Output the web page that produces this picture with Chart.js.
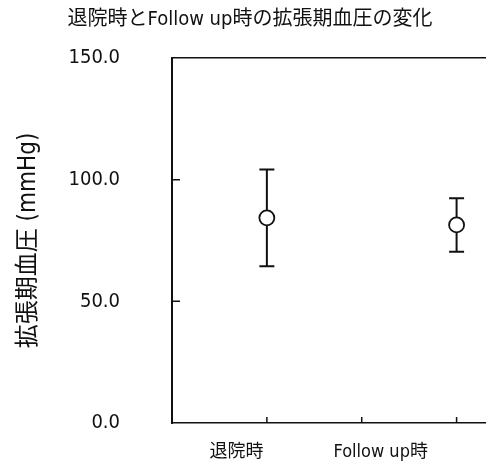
<!DOCTYPE html>
<html>
<head>
<meta charset="utf-8">
<script src="https://cdn.jsdelivr.net/npm/chart.js@4.4.1/dist/chart.umd.min.js"></script>
<style>
html,body{margin:0;padding:0;background:#fff;overflow:hidden;}
canvas{display:block;}
</style>
</head>
<body>
<canvas id="c" width="486" height="464"></canvas>
<script>
// ---- data ----
const categories = ['退院時', 'Follow up時'];
const xPositions = [1, 2];
const meanValues = [84.3, 81.4];
const sdValues = [19.9, 11.0];
const yTickValues = [0, 50, 100, 150];
const yTickMarks = [50, 100];
const xTickMarks = [1, 1.5, 2];
const xLabelPositions = [0.84, 1.6];
const titleText = '退院時とFollow up時の拡張期血圧の変化';
const yTitleText = '拡張期血圧 (mmHg)';

const FONT = '"DejaVu Sans Condensed", "Liberation Sans", "Noto Sans CJK JP", sans-serif';
const INK = '#111';

const errorBars = {
  id: 'errorBars',
  beforeDatasetsDraw(chart) {
    const {ctx, scales: {x, y}} = chart;
    ctx.save();
    ctx.strokeStyle = INK;
    ctx.lineWidth = 2;
    const cap = 7.5;
    xPositions.forEach((xv, i) => {
      const px = x.getPixelForValue(xv);
      const top = y.getPixelForValue(meanValues[i] + sdValues[i]);
      const bot = y.getPixelForValue(meanValues[i] - sdValues[i]);
      ctx.beginPath();
      ctx.moveTo(px, top); ctx.lineTo(px, bot);
      ctx.moveTo(px - cap, top); ctx.lineTo(px + cap, top);
      ctx.moveTo(px - cap, bot); ctx.lineTo(px + cap, bot);
      ctx.stroke();
    });
    ctx.restore();
  }
};

const inwardTicks = {
  id: 'inwardTicks',
  afterDraw(chart) {
    const {ctx, scales: {x, y}, chartArea} = chart;
    ctx.save();
    ctx.strokeStyle = INK;
    ctx.lineWidth = 1.5;
    ctx.beginPath();
    xTickMarks.forEach(v => {
      const px = x.getPixelForValue(v);
      ctx.moveTo(px, chartArea.bottom); ctx.lineTo(px, chartArea.bottom - 6);
    });
    yTickMarks.forEach(v => {
      const py = y.getPixelForValue(v);
      ctx.moveTo(chartArea.left, py); ctx.lineTo(chartArea.left + 8, py);
    });
    ctx.stroke();
    ctx.restore();
  }
};

new Chart(document.getElementById('c'), {
  type: 'scatter',
  data: {
    datasets: [{
      data: xPositions.map((xv, i) => ({x: xv, y: meanValues[i]})),
      pointRadius: 7.5,
      pointBorderWidth: 1.8,
      pointBackgroundColor: '#fff',
      pointBorderColor: INK,
      showLine: false,
      clip: false
    }]
  },
  options: {
    responsive: false,
    animation: false,
    layout: {autoPadding: false, padding: {left: 14, right: 0, top: 0, bottom: 0}},
    plugins: {
      legend: {display: false},
      tooltip: {enabled: false},
      title: {
        display: true,
        text: titleText,
        color: INK,
        font: {family: FONT, size: 20, weight: 'normal'},
        padding: {top: 8, bottom: 26}
      }
    },
    scales: {
      x: {
        type: 'linear',
        min: 0.5, max: 2.155,
        afterBuildTicks: s => { s.ticks = xLabelPositions.map(v => ({value: v})); },
        afterFit: s => { s.height = 41; s.paddingLeft = 0; s.paddingRight = 0; },
        ticks: {
          callback: (v, i) => categories[i],
          color: INK,
          font: {family: FONT, size: 18},
          padding: 19,
          maxRotation: 0,
          autoSkip: false
        },
        grid: {display: false, drawTicks: false},
        border: {display: true, color: INK, width: 1.5}
      },
      x2: {
        type: 'linear',
        position: 'top',
        min: 0.5, max: 2.155,
        afterFit: s => { s.height = 0; s.paddingLeft = 0; s.paddingRight = 0; },
        ticks: {display: false},
        grid: {display: false, drawTicks: false},
        border: {display: true, color: INK, width: 1.5}
      },
      y: {
        min: 0, max: 150,
        afterBuildTicks: s => { s.ticks = yTickValues.map(v => ({value: v})); },
        afterFit: s => { s.width = 158; s.paddingTop = 0; s.paddingBottom = 0; },
        ticks: {
          callback: v => v.toFixed(1),
          color: INK,
          font: {family: FONT, size: 20},
          padding: 52
        },
        grid: {display: false, drawTicks: false},
        border: {display: true, color: INK, width: 2},
        title: {
          display: true,
          text: yTitleText,
          color: INK,
          font: {family: FONT, size: 24},
          padding: {top: 0, bottom: 0}
        }
      }
    }
  },
  plugins: [errorBars, inwardTicks]
});
</script>
</body>
</html>
